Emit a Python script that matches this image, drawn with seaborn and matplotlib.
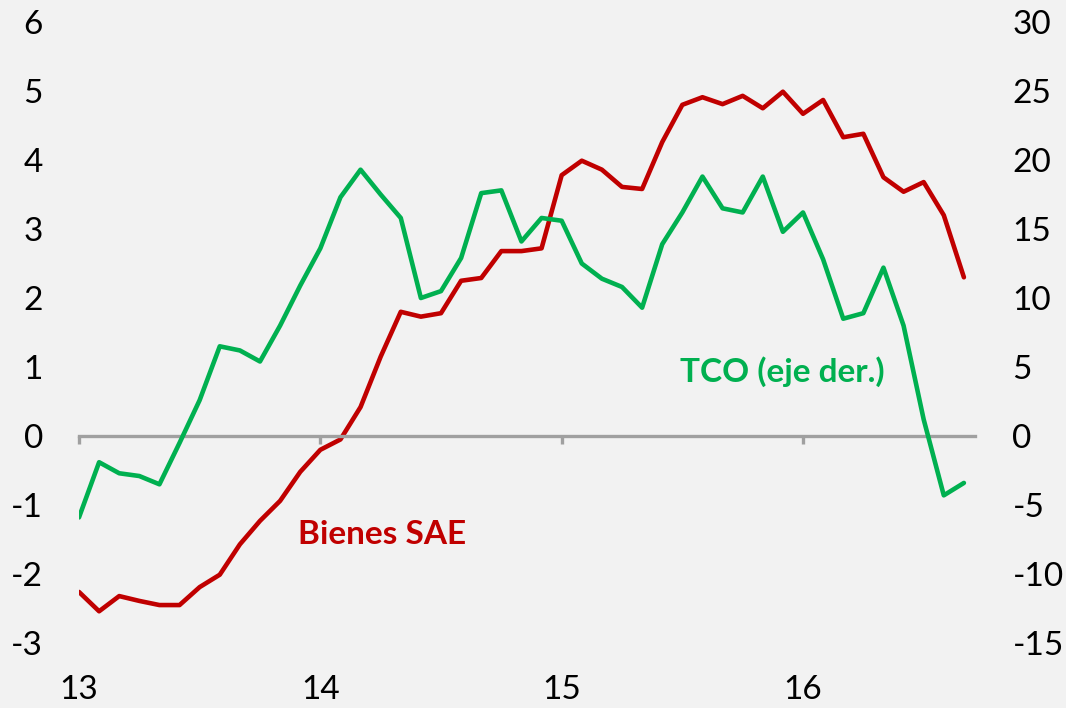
import numpy as np
import pandas as pd
import matplotlib as mpl
mpl.use("Agg")
import matplotlib.pyplot as plt
import seaborn as sns

# Monthly data, Jan 2013 - Sep 2016
bienes_sae = [-2.26, -2.54, -2.32, -2.39, -2.45, -2.45, -2.19, -2.01, -1.57, -1.23,
              -0.94, -0.52, -0.20, -0.05, 0.42, 1.15, 1.80, 1.73, 1.78, 2.25,
              2.29, 2.68, 2.68, 2.72, 3.78, 3.99, 3.86, 3.61, 3.58, 4.26,
              4.80, 4.91, 4.81, 4.93, 4.75, 4.99, 4.67, 4.87, 4.33, 4.38,
              3.75, 3.54, 3.68, 3.20, 2.30]
tco = [-5.9, -1.9, -2.7, -2.9, -3.5, -0.5, 2.6, 6.5, 6.2, 5.4,
       8.0, 10.9, 13.6, 17.3, 19.3, 17.5, 15.8, 10.0, 10.5, 12.9,
       17.6, 17.8, 14.1, 15.8, 15.6, 12.5, 11.4, 10.8, 9.3, 13.9,
       16.2, 18.8, 16.5, 16.2, 18.8, 14.8, 16.2, 12.8, 8.5, 8.9,
       12.2, 8.0, 1.2, -4.3, -3.4]
year_labels = ["13", "14", "15", "16"]
left_ticks = [-3, -2, -1, 0, 1, 2, 3, 4, 5, 6]
right_ticks = [-15, -10, -5, 0, 5, 10, 15, 20, 25, 30]

df = pd.DataFrame({"mes": np.arange(len(bienes_sae)), "sae": bienes_sae, "tco": tco})

sns.set_style("white")
plt.rcParams['font.family'] = ['Lato', 'DejaVu Sans']
plt.rcParams['axes.unicode_minus'] = False

bg = "#f2f2f2"
red = "#c00000"
green = "#00b050"
grey = "#a0a0a0"

fig = plt.figure(figsize=(10.66, 7.08), dpi=100, facecolor=bg)
ax = fig.add_axes([0.0741, 0.0918, 0.8405, 0.8771])
ax.set_facecolor(bg)
ax2 = ax.twinx()

sns.lineplot(data=df, x="mes", y="sae", ax=ax, color=red, linewidth=3.3)
sns.lineplot(data=df, x="mes", y="tco", ax=ax2, color=green, linewidth=3.3)

ax.set_xlim(0, 44.55)
ax.set_ylim(-3, 6)
ax2.set_ylim(-15, 30)
ax.set_yticks(left_ticks)
ax2.set_yticks(right_ticks)
ax.set_xticks([0, 12, 24, 36])
ax.set_xticklabels(year_labels)
ax.set_xlabel("")
ax.set_ylabel("")
ax2.set_ylabel("")

for a in (ax, ax2):
    for s in ("top", "left", "right"):
        a.spines[s].set_visible(False)
ax2.spines["bottom"].set_visible(False)
ax.spines["bottom"].set_position(("data", 0))
ax.spines["bottom"].set_color(grey)
ax.spines["bottom"].set_linewidth(2.4)

ax.tick_params(axis="x", bottom=True, direction="out", length=6, width=2.4, color=grey,
               pad=166, labelsize=24, labelcolor="black")
ax.tick_params(axis="y", left=False, length=0, pad=26, labelsize=24, labelcolor="black")
ax2.tick_params(axis="y", right=False, length=0, pad=27, labelsize=24, labelcolor="black")
ax.set_zorder(ax2.get_zorder() - 1)
ax2.patch.set_visible(False)

ax.text(10.9, -1.43, "Bienes SAE", color=red, fontsize=24, fontweight="bold",
        ha="left", va="center")
ax.text(29.9, 0.93, "TCO (eje der.)", color=green, fontsize=24, fontweight="bold",
        ha="left", va="center")

fig.savefig("out.png", dpi=100, facecolor=bg)
